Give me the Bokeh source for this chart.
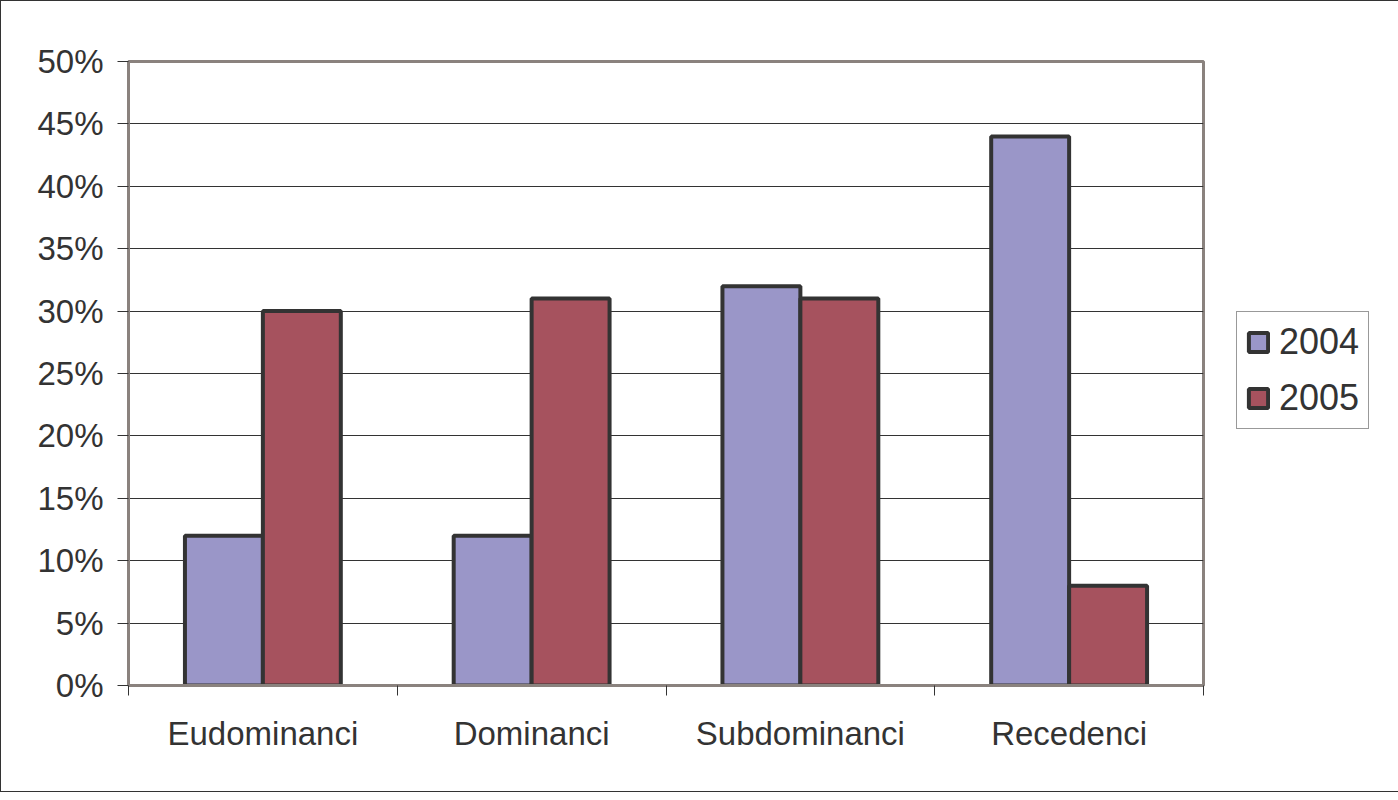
from bokeh.plotting import figure
from bokeh.models import (ColumnDataSource, Range1d, LinearAxis,
                          FixedTicker, PrintfTickFormatter, Legend, LegendItem)
from bokeh.transform import dodge
from bokeh.embed import file_html
from bokeh.resources import INLINE

categories = ["Eudominanci", "Dominanci", "Subdominanci", "Recedenci"]
series_names = ["2004", "2005"]
values_2004 = [12, 12, 32, 44]
values_2005 = [30, 31, 31, 8]
y_ticks = [0, 5, 10, 15, 20, 25, 30, 35, 40, 45, 50]

BLUE = "#9a96c8"
RED = "#a6525e"
FRAME = "#8a827e"
DARK = "#333333"
FONT = "Liberation Sans"

n = len(categories)
centers = [i + 0.5 for i in range(n)]
bounds = [float(i) for i in range(n + 1)]

src = ColumnDataSource(dict(cat=categories, xc=centers,
                            v2004=values_2004, v2005=values_2005))

p = figure(x_range=Range1d(0, n), y_range=Range1d(0, 50),
           frame_width=1075, frame_height=624,
           min_border_left=127, min_border_right=180,
           min_border_top=60, min_border_bottom=106,
           x_axis_location=None, y_axis_location=None,
           toolbar_location=None, output_backend="svg")
p.styles = {"border": "1px solid #333333", "box-sizing": "border-box"}

p.outline_line_color = FRAME
p.outline_line_width = 3
p.background_fill_color = "white"
p.border_fill_color = "white"

# y axis
yax = LinearAxis(ticker=FixedTicker(ticks=y_ticks, minor_ticks=[]),
                 formatter=PrintfTickFormatter(format="%d%%"))
yax.axis_line_color = FRAME
yax.axis_line_width = 3
yax.major_tick_line_color = DARK
yax.major_tick_line_width = 1
yax.major_tick_out = 11
yax.major_tick_in = 0
yax.major_label_standoff = 14
yax.major_label_text_font = FONT
yax.major_label_text_font_size = "33px"
yax.major_label_text_color = DARK
p.add_layout(yax, "left")

# x axis: labels at category centres, ticks at boundaries
xax = LinearAxis(ticker=FixedTicker(ticks=centers, minor_ticks=bounds))
xax.major_label_overrides = {c: name for c, name in zip(centers, categories)}
xax.axis_line_color = FRAME
xax.axis_line_width = 3
xax.major_tick_out = 0
xax.major_tick_in = 0
xax.minor_tick_out = 10
xax.minor_tick_in = 0
xax.minor_tick_line_color = DARK
xax.minor_tick_line_width = 1
xax.major_label_standoff = 19
xax.major_label_text_font = FONT
xax.major_label_text_font_size = "33px"
xax.major_label_text_color = DARK
p.add_layout(xax, "below")

p.xgrid.visible = False
p.ygrid.ticker = FixedTicker(ticks=y_ticks)
p.ygrid.grid_line_color = DARK
p.ygrid.grid_line_width = 1

r1 = p.vbar(x=dodge("xc", -0.145), top="v2004", width=0.29,
            source=src, fill_color=BLUE, line_color=DARK, line_width=4)
r2 = p.vbar(x=dodge("xc", 0.145), top="v2005", width=0.29,
            source=src, fill_color=RED, line_color=DARK, line_width=4)

legend = Legend(items=[LegendItem(label=series_names[0], renderers=[r1]),
                       LegendItem(label=series_names[1], renderers=[r2])],
                location=(33, 256), orientation="vertical")
legend.border_line_color = DARK
legend.border_line_width = 1
legend.background_fill_color = "white"
legend.background_fill_alpha = 1
legend.label_text_font = FONT
legend.label_text_font_size = "36px"
legend.label_text_color = DARK
legend.glyph_width = 24
legend.glyph_height = 24
legend.label_standoff = 9
legend.spacing = 14
legend.padding = 9
legend.margin = 0
p.add_layout(legend, "right")

open("out.html", "w").write(file_html(p, INLINE))
